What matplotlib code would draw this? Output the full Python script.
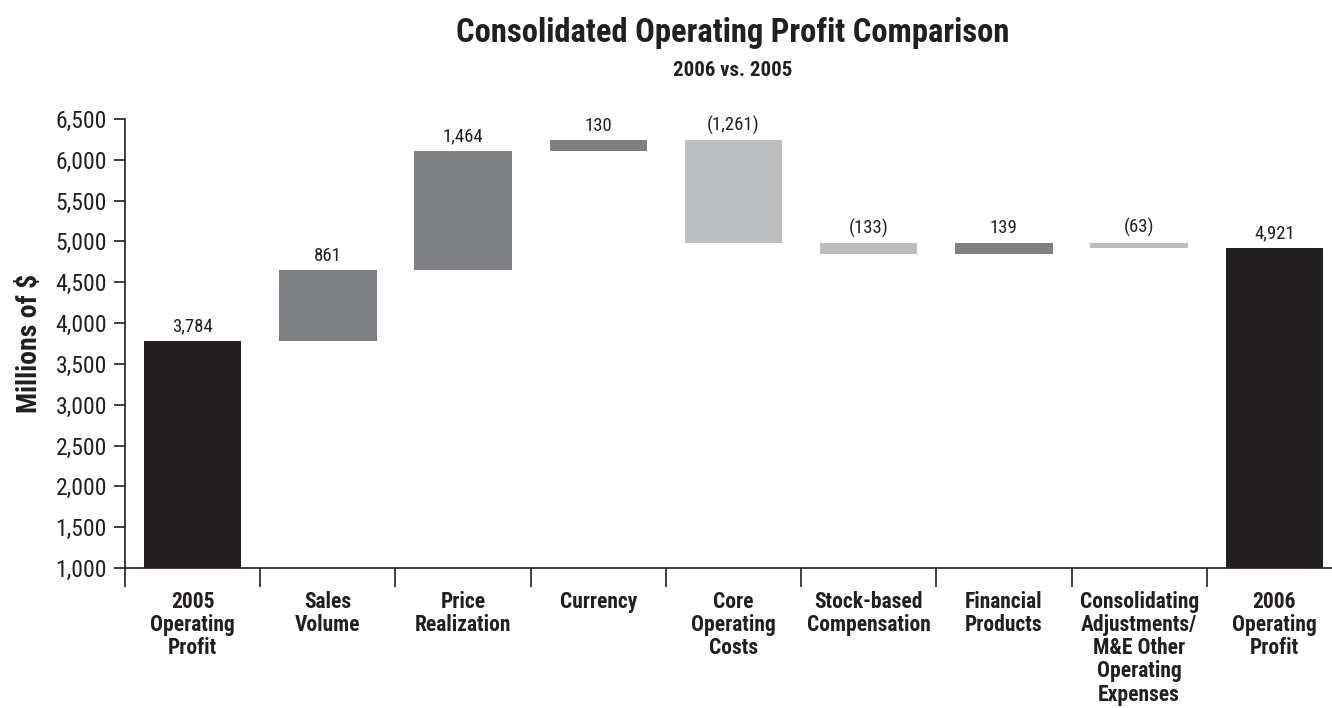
import numpy as np
import matplotlib
matplotlib.use("Agg")
import matplotlib.pyplot as plt
from matplotlib.ticker import FuncFormatter

plt.rcParams['font.family'] = ['Roboto Condensed', 'DejaVu Sans']

categories = ["2005\nOperating\nProfit", "Sales\nVolume", "Price\nRealization", "Currency",
              "Core\nOperating\nCosts", "Stock-based\nCompensation", "Financial\nProducts",
              "Consolidating\nAdjustments/\nM&E Other\nOperating\nExpenses", "2006\nOperating\nProfit"]
values = [3784, 861, 1464, 130, -1261, -133, 139, -63, 4921]
is_total = [True, False, False, False, False, False, False, False, True]

col_total = "#231f20"
col_up = "#7f8083"
col_down = "#bcbdbf"

fig = plt.figure(figsize=(13.32, 7.08), dpi=100)
ax = fig.add_axes([125/1332, 1-568/708, (1342-125)/1332, (568-119)/708])

running = 0
bottoms, heights, colors = [], [], []
for v, t in zip(values, is_total):
    if t:
        bottoms.append(0); heights.append(v); colors.append(col_total)
        running = v
    else:
        if v >= 0:
            bottoms.append(running); heights.append(v); colors.append(col_up)
        else:
            bottoms.append(running + v); heights.append(-v); colors.append(col_down)
        running += v

x = np.arange(len(values))
ax.bar(x, heights, bottom=bottoms, width=0.72, color=colors, zorder=2)

for xi, v, b, h in zip(x, values, bottoms, heights):
    txt = f"{v:,}" if v >= 0 else f"({-v:,})"
    ax.annotate(txt, (xi, b + h), xytext=(0, 4), textcoords="offset points",
                ha="center", va="bottom", fontsize=13.5, color="#231f20")

ax.set_ylim(1000, 6500)
ax.set_xlim(-0.5, 8.5)
ax.set_yticks(np.arange(1000, 6501, 500))
ax.yaxis.set_major_formatter(FuncFormatter(lambda v, p: f"{int(v):,}"))
ax.tick_params(axis='y', length=8, width=1.2, pad=5, labelsize=17, color="#231f20", labelcolor="#231f20")

ax.set_xticks(x)
ax.set_xticklabels(categories, fontweight="bold", fontsize=15.5, linespacing=1.07, color="#231f20")
ax.set_xticks(np.arange(-0.5, 9, 1), minor=True)
ax.tick_params(axis='x', which='major', length=0, pad=16.5)
ax.tick_params(axis='x', which='minor', length=14, width=1.2, color="#231f20")

for s in ["top", "right"]:
    ax.spines[s].set_visible(False)
for s in ["left", "bottom"]:
    ax.spines[s].set_linewidth(1.2)
    ax.spines[s].set_color("#231f20")

ax.set_ylabel("Millions of $", fontweight="bold", fontsize=20, color="#231f20", labelpad=9)

fig.text(733/1332, 1-33/708, "Consolidated Operating Profit Comparison", ha="center", va="center",
         fontsize=23.5, fontweight="bold", color="#231f20")
fig.text(733/1332, 1-70/708, "2006 vs. 2005", ha="center", va="center",
         fontsize=15, fontweight="bold", color="#231f20")

fig.savefig("out.png", dpi=100)
